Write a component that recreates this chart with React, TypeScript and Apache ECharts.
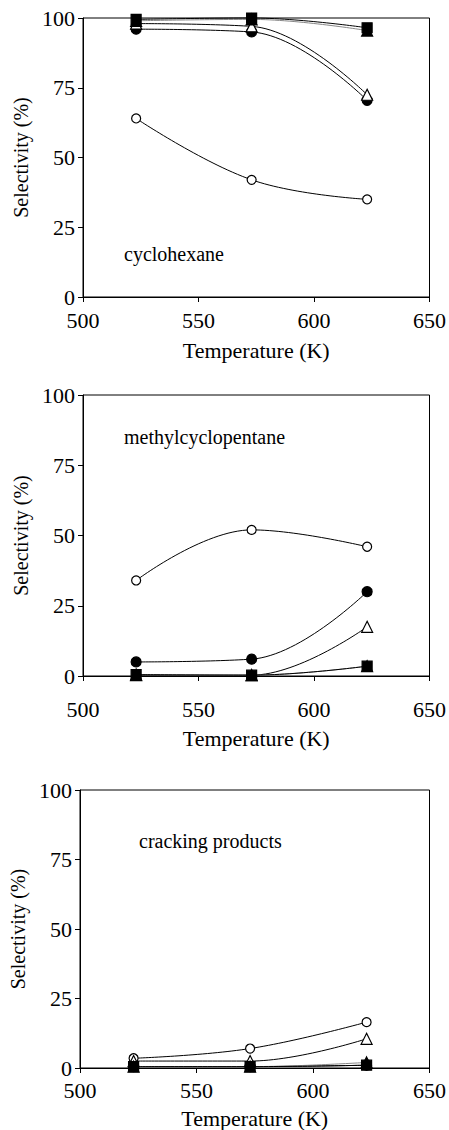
import React, { useEffect, useRef } from "react";
import * as echarts from "echarts";

// Temperatures (K)
const temperatures = [523, 573, 623];
const xTicks = [500, 550, 600, 650];
const yTicks = [0, 25, 50, 75, 100];

// Panel titles
const panelNames = ["cyclohexane", "methylcyclopentane", "cracking products"];

// Selectivity (%) — cyclohexane
const chOpenCircle = [64, 42, 35];
const chFilledCircle = [96, 95, 70.5];
const chOpenTriangle = [98, 97, 72.5];
const chFilledTriangle = [99, 99.5, 95.5];
const chFilledSquare = [99.5, 100, 96.5];

// Selectivity (%) — methylcyclopentane
const mcpOpenCircle = [34, 52, 46];
const mcpFilledCircle = [5, 6, 30];
const mcpOpenTriangle = [0.3, 0.3, 17.5];
const mcpFilledTriangle = [0.5, 0.3, 3.5];
const mcpFilledSquare = [0.5, 0.3, 3.5];

// Selectivity (%) — cracking products
const crOpenCircle = [3.5, 7, 16.5];
const crFilledCircle = [0.5, 0.5, 1];
const crOpenTriangle = [2.5, 2.5, 10.5];
const crFilledTriangle = [0.5, 0.5, 2];
const crFilledSquare = [0.5, 0.5, 1];

const FONT = "Liberation Serif";

export default function App() {
  const ref = useRef<HTMLDivElement>(null);

  useEffect(() => {
    document.body.style.margin = "0";
    if (!ref.current) return;
    const chart = echarts.init(ref.current, null, { renderer: "svg" });

    const grids = [
      { left: 83, top: 18, width: 358, height: 279 },
      { left: 83, top: 395, width: 359, height: 281 },
      { left: 80, top: 790, width: 358, height: 280 },
    ];
    const xNameGaps = [42, 51, 39];
    const xLabelMargins = [12, 22, 11];

    const panels = [
      [chOpenCircle, chFilledCircle, chOpenTriangle, chFilledTriangle, chFilledSquare],
      [mcpOpenCircle, mcpFilledCircle, mcpOpenTriangle, mcpFilledTriangle, mcpFilledSquare],
      [crOpenCircle, crFilledCircle, crOpenTriangle, crFilledTriangle, crFilledSquare],
    ];

    const styles = [
      { symbol: "circle", size: 9, fill: "#fff", line: "#000", z: 3 },
      { symbol: "circle", size: 10, fill: "#000", line: "#000", z: 4 },
      { symbol: "triangle", size: 11, fill: "#fff", line: "#000", z: 5 },
      { symbol: "triangle", size: 11, fill: "#000", line: "#888", z: 6 },
      { symbol: "rect", size: 10, fill: "#000", line: "#000", z: 7 },
    ];

    const series: any[] = [];
    panels.forEach((vals, gi) => {
      vals.forEach((v, si) => {
        const s = styles[si];
        series.push({
          type: "line",
          xAxisIndex: gi,
          yAxisIndex: gi,
          data: temperatures.map((t, k) => [t, v[k]]),
          smooth: 0.4,
          clip: false,
          symbol: s.symbol,
          symbolSize: s.size,
          z: s.z,
          lineStyle: { color: s.line, width: 1 },
          itemStyle: { color: s.fill, borderColor: "#000", borderWidth: 1.2 },
        });
      });
    });

    const option: any = {
      animation: false,
      textStyle: { fontFamily: FONT },
      grid: grids.map((g) => ({
        ...g,
        show: true,
        borderColor: "#000",
        borderWidth: 1,
        backgroundColor: "transparent",
      })),
      xAxis: grids.map((_, i) => ({
        gridIndex: i,
        type: "value",
        min: xTicks[0],
        max: xTicks[xTicks.length - 1],
        interval: xTicks[1] - xTicks[0],
        name: "Temperature (K)",
        nameLocation: "middle",
        nameGap: xNameGaps[i],
        nameTextStyle: { fontFamily: FONT, fontSize: 22, color: "#000" },
        axisLine: { show: true, onZero: false, lineStyle: { color: "#000", width: 1 } },
        axisTick: { show: true, inside: false, length: 5, lineStyle: { color: "#000" } },
        axisLabel: { fontFamily: FONT, fontSize: 22, color: "#000", margin: xLabelMargins[i] },
        splitLine: { show: false },
      })),
      yAxis: grids.map((_, i) => ({
        gridIndex: i,
        type: "value",
        min: yTicks[0],
        max: yTicks[yTicks.length - 1],
        interval: yTicks[1] - yTicks[0],
        name: "Selectivity (%)",
        nameLocation: "middle",
        nameGap: 52,
        nameRotate: 90,
        nameTextStyle: { fontFamily: FONT, fontSize: 20, color: "#000" },
        axisLine: { show: true, lineStyle: { color: "#000", width: 1 } },
        axisTick: { show: true, inside: false, length: 5, lineStyle: { color: "#000" } },
        axisLabel: { fontFamily: FONT, fontSize: 22, color: "#000", margin: 8 },
        splitLine: { show: false },
      })),
      graphic: [
        { type: "text", left: 124, top: 244, style: { text: panelNames[0], fontFamily: FONT, fontSize: 20, fill: "#000" } },
        { type: "text", left: 124, top: 427, style: { text: panelNames[1], fontFamily: FONT, fontSize: 20, fill: "#000" } },
        { type: "text", left: 139, top: 831, style: { text: panelNames[2], fontFamily: FONT, fontSize: 20, fill: "#000" } },
      ],
      series,
    };

    chart.setOption(option);
    return () => chart.dispose();
  }, []);

  return <div ref={ref} style={{ width: 449, height: 1130 }} />;
}
